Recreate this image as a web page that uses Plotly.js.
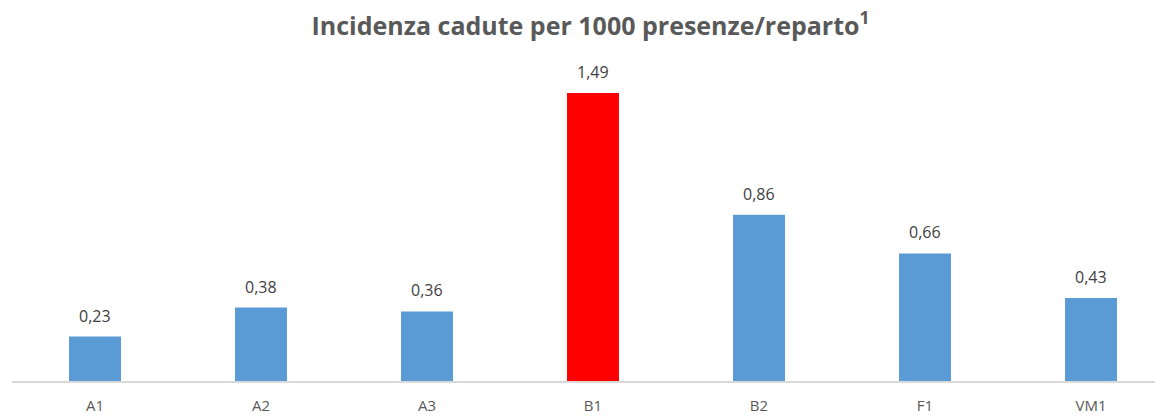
<!DOCTYPE html>
<html><head><meta charset="utf-8">
<script src="https://cdn.plot.ly/plotly-3.0.1.min.js"></script>
<style>html,body{margin:0;padding:0;overflow:hidden;background:#fff}</style>
</head><body><div id="chart"></div>
<script>
const categories = ["A1","A2","A3","B1","B2","F1","VM1"];
const values = [0.23,0.38,0.36,1.49,0.86,0.66,0.43];
const barColors = ["#5B9BD5","#5B9BD5","#5B9BD5","#FF0000","#5B9BD5","#5B9BD5","#5B9BD5"];
const titleText = "Incidenza cadute per 1000 presenze/reparto<sup>1</sup>";

const fmt = v => v.toFixed(2).replace('.', ',');
const annotations = categories.map((c,i)=>({
  x:c, y:values[i], xref:'x', yref:'y', text:fmt(values[i]), showarrow:false,
  yanchor:'bottom', yshift:8, font:{family:'Open Sans', size:16, color:'#404040'}
}));

Plotly.newPlot('chart',[{
  type:'bar', x:categories, y:values, marker:{color:barColors}, hoverinfo:'none'
}],{
  width:1180, height:417,
  margin:{l:12,r:6,t:72,b:36},
  paper_bgcolor:'#fff', plot_bgcolor:'#fff',
  bargap:0.687,
  separators:',.',
  showlegend:false,
  title:{text:titleText, x:0.4979, xref:'paper', xanchor:'center', y:0.9376, yref:'container', yanchor:'middle',
    font:{family:'Open Sans', size:25, color:'#595959', weight:'bold'}},
  xaxis:{showline:true, linecolor:'#D9D9D9', linewidth:2, ticks:'', showgrid:false, zeroline:false,
    tickfont:{family:'Open Sans', size:15, color:'#595959'}, ticklabelstandoff:10},
  yaxis:{range:[0,1.5986], visible:false, showgrid:false, zeroline:false, fixedrange:true},
  annotations:annotations
},{displayModeBar:false, staticPlot:true});
</script></body></html>
